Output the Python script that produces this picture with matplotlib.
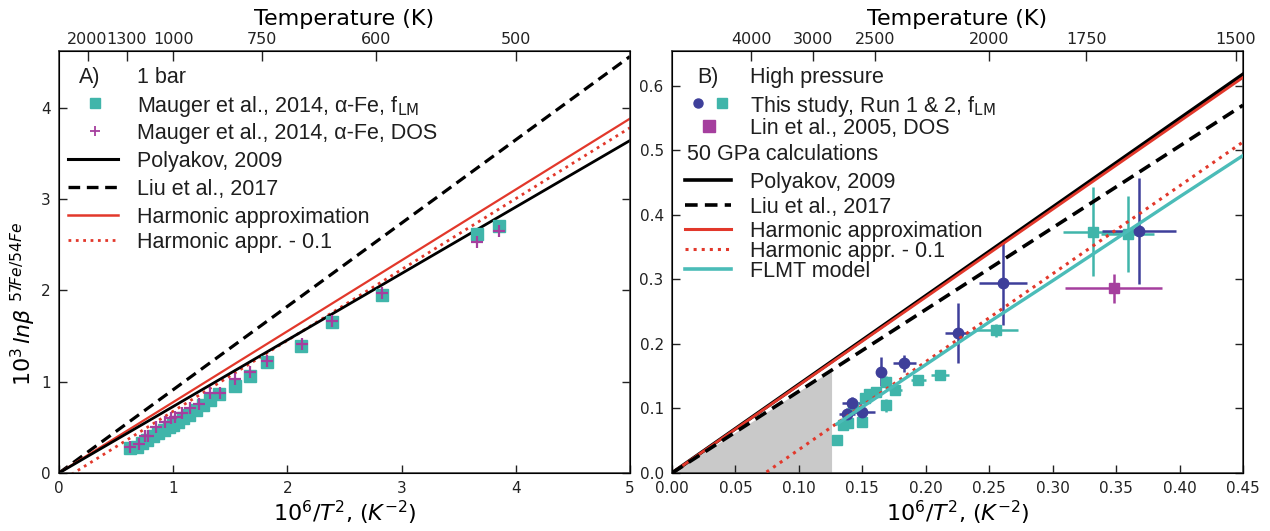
import matplotlib.pyplot as plt
from matplotlib.lines import Line2D
import numpy as np

plt.rcParams['font.family'] = 'DejaVu Sans'

# ---- panel A: 1 bar, alpha-Fe (Mauger et al., 2014) ----
flm_x = [0.62, 0.68, 0.73, 0.77, 0.82, 0.87, 0.92, 0.96, 1.00, 1.04, 1.09, 1.14,
         1.20, 1.26, 1.32, 1.40, 1.54, 1.67, 1.82, 2.12, 2.39, 2.83, 3.66, 3.85]
flm_y = [0.27, 0.29, 0.33, 0.36, 0.40, 0.44, 0.47, 0.50, 0.53, 0.56, 0.60, 0.64,
         0.69, 0.74, 0.80, 0.86, 0.95, 1.06, 1.21, 1.39, 1.65, 1.95, 2.62, 2.70]
dos_x = [0.62, 0.70, 0.75, 0.78, 0.85, 0.93, 0.98, 1.02, 1.08, 1.15, 1.23, 1.32,
         1.41, 1.54, 1.67, 1.82, 2.13, 2.39, 2.83, 3.66, 3.85]
dos_y = [0.29, 0.32, 0.41, 0.40, 0.50, 0.56, 0.60, 0.61, 0.66, 0.71, 0.76, 0.88,
         0.88, 1.03, 1.11, 1.23, 1.41, 1.66, 1.97, 2.53, 2.65]

# model lines, 1 bar
bar_x = [0.0, 5.0]
poly_bar = [0.0, 3.64]
liu_bar = [0.0, 4.56]
harm_bar = [0.0, 3.88]

temps_A = [2000, 1300, 1000, 750, 600, 500]

# ---- panel B: high pressure ----
run1_x = [0.138, 0.142, 0.150, 0.165, 0.183, 0.225, 0.261, 0.368]
run1_y = [0.092, 0.108, 0.095, 0.157, 0.170, 0.217, 0.295, 0.375]
run1_xerr = [0.006, 0.008, 0.010, 0.004, 0.009, 0.010, 0.019, 0.029]
run1_yerr = [0.008, 0.010, 0.008, 0.022, 0.013, 0.046, 0.066, 0.082]

run2_x = [0.130, 0.135, 0.139, 0.143, 0.1495, 0.152, 0.155, 0.161, 0.169, 0.169,
          0.176, 0.194, 0.211, 0.255, 0.332, 0.359]
run2_y = [0.051, 0.074, 0.077, 0.102, 0.079, 0.116, 0.123, 0.126, 0.141, 0.105,
          0.128, 0.144, 0.152, 0.221, 0.374, 0.371]
run2_xerr = [0.003, 0.004, 0.004, 0.004, 0.004, 0.004, 0.004, 0.004, 0.003, 0.003,
             0.005, 0.006, 0.007, 0.018, 0.024, 0.021]
run2_yerr = [0.005, 0.006, 0.006, 0.006, 0.006, 0.006, 0.006, 0.006, 0.010, 0.010,
             0.006, 0.005, 0.005, 0.010, 0.069, 0.059]

lin_x, lin_y, lin_xerr, lin_yerr = [0.348], [0.286], [0.038], [0.022]

# 50 GPa calculations
gpa_x = [0.0, 0.45]
poly_gpa = [0.0, 0.618]
liu_gpa = [0.0, 0.570]
harm_gpa = [0.0, 0.613]
flmt_x = [0.130, 0.200, 0.250, 0.300, 0.350, 0.400, 0.450]
flmt_y = [0.076, 0.168, 0.234, 0.298, 0.363, 0.428, 0.492]

shade_T = 2820
temps_B = [4000, 3000, 2500, 2000, 1750, 1500]

teal = '#40b5aa'
purple = '#a53f9e'
navy = '#3e3f9a'
red = '#e2382b'
cyan = '#4bbcb8'
txt = '#1e1e1e'

W, H = 1270, 531
fig = plt.figure(figsize=(W / 100, H / 100), dpi=100)
axA = fig.add_axes([59 / W, 58 / H, 571 / W, 422 / H])
axB = fig.add_axes([672 / W, 58 / H, 571 / W, 422 / H])

# panel A
axA.plot(bar_x, liu_bar, color='black', lw=2.3, ls=(0, (3.5, 2.0)))
axA.plot(bar_x, harm_bar, color=red, lw=1.6)
axA.plot(bar_x, np.array(harm_bar) - 0.1, color=red, lw=2.0, ls=':')
axA.plot(bar_x, poly_bar, color='black', lw=2.0)
axA.plot(flm_x, flm_y, ls='none', marker='s', ms=8, color=teal, mec=teal)
axA.plot(dos_x, dos_y, ls='none', marker='+', ms=9, mew=1.6, color=purple)
axA.set_xlim(0, 5)
axA.set_ylim(0, 4.62)
axA.set_xticks(range(6))
axA.set_yticks(range(5))
axA.set_ylabel(r'$10^3\,ln\beta\ ^{57Fe/54Fe}$', fontsize=16)
axA.yaxis.set_label_coords(-0.036, 0.40)

# panel B
axB.errorbar(run2_x, run2_y, xerr=run2_xerr, yerr=run2_yerr, fmt='s', ms=7.5,
             color=teal, ecolor=teal, elinewidth=1.8, capsize=0, zorder=3)
axB.errorbar(run1_x, run1_y, xerr=run1_xerr, yerr=run1_yerr, fmt='o', ms=7.5,
             color=navy, ecolor=navy, elinewidth=1.8, capsize=0, zorder=3)
axB.errorbar(lin_x, lin_y, xerr=lin_xerr, yerr=lin_yerr, fmt='s', ms=7.5,
             color=purple, ecolor=purple, elinewidth=1.8, capsize=0, zorder=3)

x_shade = np.array([0.0, 1e6 / shade_T**2])
axB.fill_between(x_shade, 0, np.interp(x_shade, gpa_x, liu_gpa),
                 color='#c9c9c9', lw=0, zorder=1)
axB.plot(gpa_x, poly_gpa, color='black', lw=2.6, zorder=4)
axB.plot(gpa_x, harm_gpa, color=red, lw=2.0, zorder=4)
axB.plot(gpa_x, liu_gpa, color='black', lw=2.6, ls=(0, (3.5, 2.0)), zorder=4)
axB.plot(gpa_x, np.array(harm_gpa) - 0.1, color=red, lw=2.2, ls=':', zorder=4)
axB.plot(flmt_x, flmt_y, color=cyan, lw=2.4, zorder=4)
axB.set_xlim(0, 0.45)
axB.set_ylim(0, 0.654)
axB.set_xticks(np.arange(0, 0.451, 0.05))
axB.set_yticks(np.arange(0, 0.61, 0.1))

for ax, temps in ((axA, temps_A), (axB, temps_B)):
    ax.tick_params(direction='in', length=6, width=1, labelsize=11, pad=6,
                   right=True, colors='#222222')
    ax.set_xlabel(r'$10^6/T^2$, $(K^{-2})$', fontsize=16, labelpad=2)
    for sp in ax.spines.values():
        sp.set_linewidth(1.1)
        sp.set_color('#333333')
    top = ax.twiny()
    top.set_xlim(ax.get_xlim())
    top.set_xticks([1e6 / t**2 for t in temps])
    top.set_xticklabels([str(t) for t in temps])
    top.tick_params(direction='in', length=7, width=1, labelsize=11.5, pad=3,
                    colors='#222222')
    top.set_xlabel('Temperature (K)', fontsize=16, labelpad=5)


# key entries, placed in figure pixels
def fx(px):
    return px / W


def fy(py):
    return 1 - py / H


def key_text(px, py, s):
    fig.text(fx(px), fy(py), s, fontsize=15.5, family='Liberation Sans',
             va='center_baseline', ha='left', color=txt)


def key_line(x0, x1, py, **kw):
    fig.add_artist(Line2D([fx(x0), fx(x1)], [fy(py), fy(py)],
                          transform=fig.transFigure, **kw))


def key_marker(px, py, **kw):
    fig.add_artist(Line2D([fx(px)], [fy(py)], transform=fig.transFigure,
                          ls='none', **kw))


# panel A key
key_text(79, 75, 'A)')
key_text(137, 75, '1 bar')
key_marker(95, 103, marker='s', ms=7, color=teal)
key_text(137, 103, r'Mauger et al., 2014, α-Fe, f$_{\rm LM}$')
key_marker(95, 131, marker='+', ms=7, mew=1.3, color=purple)
key_text(137, 131, 'Mauger et al., 2014, α-Fe, DOS')
key_line(68, 118, 159, color='black', lw=2.2)
key_text(137, 159, 'Polyakov, 2009')
key_line(68, 118, 187, color='black', lw=2.4, ls=(0, (3.5, 2.0)))
key_text(137, 187, 'Liu et al., 2017')
key_line(68, 118, 215, color=red, lw=1.8)
key_text(137, 215, 'Harmonic approximation')
key_line(68, 118, 240, color=red, lw=2.0, ls=':')
key_text(137, 240, 'Harmonic appr. - 0.1')

# panel B key
key_text(697, 75, 'B)')
key_text(750, 75, 'High pressure')
key_marker(698, 103, marker='o', ms=6.5, color=navy)
key_marker(722, 103, marker='s', ms=7, color=teal)
key_text(750, 103, r'This study, Run 1 & 2, f$_{\rm LM}$')
key_marker(709, 126, marker='s', ms=8, color=purple)
key_text(750, 126, 'Lin et al., 2005, DOS')
key_text(687, 152, '50 GPa calculations')
key_line(685, 731, 180, color='black', lw=2.6)
key_text(750, 180, 'Polyakov, 2009')
key_line(685, 731, 205, color='black', lw=2.6, ls=(0, (3.5, 2.0)))
key_text(750, 205, 'Liu et al., 2017')
key_line(685, 731, 229, color=red, lw=2.2)
key_text(750, 229, 'Harmonic approximation')
key_line(685, 731, 249, color=red, lw=2.2, ls=':')
key_text(750, 249, 'Harmonic appr. - 0.1')
key_line(685, 731, 269, color=cyan, lw=2.6)
key_text(750, 269, 'FLMT model')

fig.savefig('out.png', dpi=100, facecolor='white')
